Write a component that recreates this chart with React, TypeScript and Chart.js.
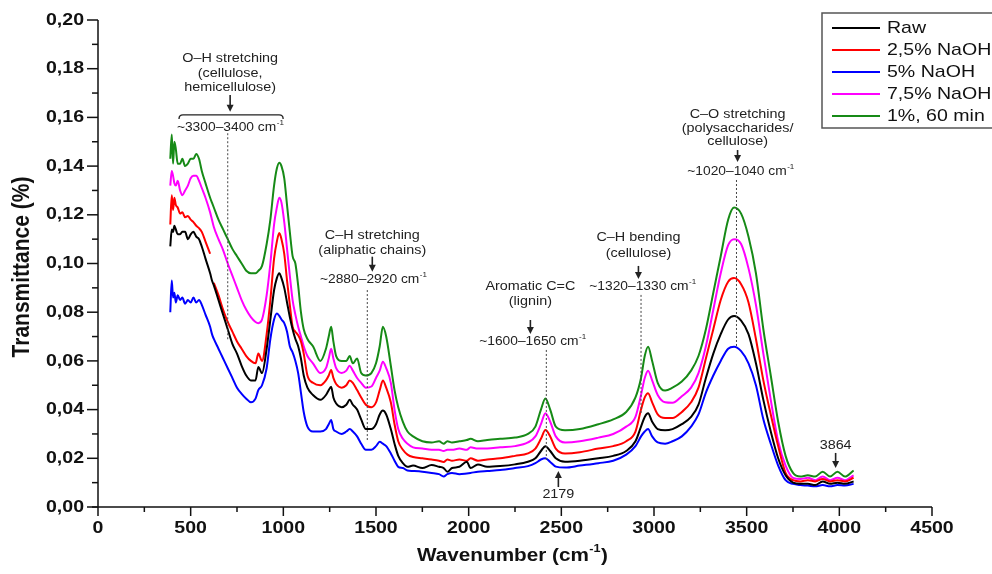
import React, { useEffect, useRef } from 'react';
import { Chart, registerables } from 'chart.js';

Chart.register(...registerables);

// ---------- DATA ----------
const wavenumbers = [
  390, 398, 405, 412, 420, 430, 443, 455, 470, 485,
  500, 515, 530, 545, 560, 580, 605, 615, 625, 650,
  675, 700, 725, 750, 775, 800, 825, 850, 865, 885,
  910, 930, 950, 965, 978, 990, 1005, 1020, 1035, 1050,
  1065, 1080, 1095, 1110, 1130, 1160, 1200, 1230, 1245, 1258,
  1270, 1285, 1315, 1340, 1358, 1375, 1398, 1420, 1445, 1475,
  1500, 1520, 1537, 1555, 1580, 1600, 1620, 1645, 1670, 1700,
  1750, 1800, 1840, 1865, 1885, 1910, 1950, 1990, 2010, 2050,
  2100, 2170, 2250, 2320, 2360, 2390, 2414, 2440, 2470, 2520,
  2600, 2700, 2780, 2850, 2900, 2930, 2950, 2968, 2990, 3020,
  3060, 3100, 3150, 3200, 3240, 3280, 3320, 3360, 3400, 3432,
  3470, 3510, 3550, 3590, 3630, 3670, 3710, 3750, 3790, 3830,
  3870, 3910, 3950, 3990, 4030, 4077,
];

const rawValues = [
  0.107, 0.114, 0.113, 0.1155, 0.114, 0.112, 0.112, 0.113, 0.113, 0.110,
  0.112, 0.113, 0.111, 0.110, 0.107, 0.102, 0.096, 0.093, 0.091, 0.085,
  0.079, 0.073, 0.067, 0.063, 0.058, 0.054, 0.052, 0.052, 0.0575, 0.055,
  0.065, 0.077, 0.089, 0.094, 0.096, 0.094, 0.090, 0.084, 0.078, 0.073,
  0.069, 0.066, 0.061, 0.054, 0.049, 0.046, 0.044, 0.046, 0.048, 0.0494,
  0.045, 0.0425, 0.041, 0.042, 0.044, 0.042, 0.040, 0.036, 0.032, 0.032,
  0.034, 0.038, 0.0396, 0.038, 0.032, 0.026, 0.021, 0.018, 0.0165, 0.017,
  0.016, 0.0172, 0.0165, 0.016, 0.0145, 0.016, 0.0165, 0.0186, 0.016, 0.0175,
  0.0165, 0.0168, 0.0175, 0.0186, 0.020, 0.023, 0.025, 0.023, 0.020, 0.0186,
  0.019, 0.020, 0.021, 0.023, 0.027, 0.033, 0.037, 0.0385, 0.035, 0.032,
  0.0315, 0.032, 0.034, 0.037, 0.042, 0.053, 0.063, 0.071, 0.077, 0.0784,
  0.0765, 0.071, 0.059, 0.044, 0.031, 0.020, 0.013, 0.010, 0.0095, 0.0095,
  0.009, 0.0105, 0.0095, 0.010, 0.0095, 0.0105,
];

const naoh25Values = [
  0.116, 0.128, 0.122, 0.127, 0.124, 0.123, 0.1205, 0.121, 0.119, 0.1195,
  0.118, 0.117, 0.1155, 0.1145, 0.113, 0.109, 0.104, null, 0.092, 0.087,
  0.081, 0.076, 0.072, 0.068, 0.065, 0.062, 0.060, 0.059, 0.063, 0.060,
  0.071, 0.085, 0.102, 0.109, 0.1125, 0.110, 0.104, 0.093, 0.083, 0.074,
  0.072, 0.0705, 0.068, 0.063, 0.054, 0.051, 0.050, 0.052, 0.054, 0.0563,
  0.053, 0.0505, 0.049, 0.050, 0.052, 0.051, 0.048, 0.045, 0.042, 0.041,
  0.043, 0.048, 0.0519, 0.049, 0.043, 0.034, 0.027, 0.0235, 0.0215, 0.0205,
  0.020, 0.0195, 0.019, 0.0185, 0.0195, 0.019, 0.0195, 0.019, 0.020, 0.019,
  0.0195, 0.020, 0.021, 0.022, 0.024, 0.028, 0.0316, 0.029, 0.024, 0.022,
  0.0225, 0.024, 0.025, 0.027, 0.031, 0.040, 0.045, 0.0467, 0.043, 0.038,
  0.0365, 0.0365, 0.039, 0.043, 0.049, 0.061, 0.073, 0.085, 0.0925, 0.094,
  0.0915, 0.084, 0.069, 0.052, 0.038, 0.025, 0.014, 0.011, 0.0105, 0.011,
  0.0105, 0.0115, 0.0105, 0.011, 0.0105, 0.012,
];

const naoh5Values = [
  0.080, 0.093, 0.086, 0.088, 0.084, 0.087, 0.085, 0.086, 0.0835, 0.085,
  0.084, 0.086, 0.084, 0.085, 0.083, 0.079, 0.074, 0.071, 0.069, 0.065,
  0.061, 0.057, 0.053, 0.049, 0.0465, 0.0445, 0.043, 0.0445, 0.048, 0.050,
  0.057, 0.069, 0.077, 0.0795, 0.0785, 0.077, 0.0755, 0.072, 0.066, 0.0635,
  0.060, 0.055, 0.047, 0.039, 0.033, 0.031, 0.031, 0.032, 0.034, 0.0357,
  0.032, 0.031, 0.030, 0.031, 0.032, 0.031, 0.029, 0.026, 0.0235, 0.0235,
  0.025, 0.0268, 0.026, 0.025, 0.022, 0.019, 0.0165, 0.016, 0.015, 0.0148,
  0.0145, 0.014, 0.0135, 0.0125, 0.0135, 0.014, 0.0135, 0.0138, 0.014, 0.0145,
  0.0148, 0.0152, 0.016, 0.0168, 0.018, 0.0195, 0.020, 0.0185, 0.0166, 0.0162,
  0.017, 0.018, 0.019, 0.0215, 0.025, 0.029, 0.031, 0.032, 0.029, 0.0265,
  0.026, 0.027, 0.029, 0.033, 0.038, 0.047, 0.054, 0.060, 0.065, 0.0658,
  0.064, 0.059, 0.050, 0.036, 0.026, 0.017, 0.011, 0.0095, 0.009, 0.0088,
  0.0085, 0.009, 0.0085, 0.009, 0.0088, 0.0095,
];

const naoh75Values = [
  0.132, 0.138, 0.136, 0.133, 0.132, 0.134, 0.130, 0.128, 0.130, 0.132,
  0.135, 0.136, 0.136, 0.134, 0.131, 0.127, 0.121, 0.118, 0.115, 0.110,
  0.1055, 0.100, 0.095, 0.090, 0.085, 0.081, 0.078, 0.076, 0.0755, 0.077,
  0.087, 0.100, 0.116, 0.123, 0.127, 0.125, 0.117, 0.106, 0.095, 0.085,
  0.079, 0.074, 0.070, 0.066, 0.062, 0.059, 0.055, 0.057, 0.061, 0.065,
  0.061, 0.057, 0.055, 0.056, 0.058, 0.056, 0.053, 0.051, 0.049, 0.0495,
  0.053, 0.056, 0.0597, 0.057, 0.051, 0.040, 0.032, 0.028, 0.026, 0.0245,
  0.024, 0.0235, 0.0235, 0.023, 0.0235, 0.0235, 0.024, 0.0235, 0.0245, 0.024,
  0.024, 0.0245, 0.025, 0.0265, 0.029, 0.034, 0.0385, 0.035, 0.029, 0.0265,
  0.027, 0.0285, 0.030, 0.033, 0.037, 0.046, 0.053, 0.056, 0.052, 0.046,
  0.043, 0.0428, 0.0455, 0.049, 0.055, 0.066, 0.081, 0.096, 0.1075, 0.110,
  0.108, 0.098, 0.083, 0.063, 0.044, 0.027, 0.017, 0.012, 0.0115, 0.012,
  0.011, 0.0125, 0.011, 0.012, 0.011, 0.013,
];

const naoh1h60Values = [
  0.143, 0.153, 0.141, 0.150, 0.147, 0.141, 0.141, 0.143, 0.140, 0.141,
  0.143, 0.143, 0.145, 0.143, 0.138, 0.133, 0.127, 0.125, 0.123, 0.118,
  0.114, 0.110, 0.106, 0.103, 0.100, 0.097, 0.096, 0.096, 0.097, 0.099,
  0.108, 0.118, 0.132, 0.139, 0.1414, 0.140, 0.135, 0.124, 0.113, 0.103,
  0.100, 0.091, 0.080, 0.073, 0.069, 0.066, 0.060, 0.065, 0.070, 0.074,
  0.068, 0.062, 0.060, 0.060, 0.062, 0.059, 0.061, 0.055, 0.054, 0.055,
  0.059, 0.066, 0.074, 0.070, 0.058, 0.048, 0.041, 0.035, 0.031, 0.029,
  0.027, 0.0265, 0.027, 0.026, 0.027, 0.0265, 0.027, 0.0275, 0.028, 0.027,
  0.0275, 0.028, 0.0285, 0.030, 0.033, 0.040, 0.0446, 0.040, 0.033, 0.0315,
  0.032, 0.034, 0.036, 0.039, 0.045, 0.053, 0.062, 0.0658, 0.060, 0.051,
  0.0478, 0.049, 0.0515, 0.056, 0.062, 0.073, 0.088, 0.103, 0.118, 0.123,
  0.1205, 0.111, 0.096, 0.073, 0.054, 0.035, 0.021, 0.014, 0.0125, 0.013,
  0.0125, 0.0145, 0.0125, 0.0145, 0.0125, 0.015,
];

const seriesLabels = ['Raw', '2,5% NaOH', '5% NaOH', '7,5% NaOH', '1%, 60 min'];
const seriesValues = [rawValues, naoh25Values, naoh5Values, naoh75Values, naoh1h60Values];
const seriesColors = ['#000000', '#ff0000', '#0000ff', '#ff00ff', '#168a16'];

const xTickValues = [0, 500, 1000, 1500, 2000, 2500, 3000, 3500, 4000, 4500];
const xTickLabels = ['0', '500', '1000', '1500', '2000', '2500', '3000', '3500', '4000', '4500'];
const yTickValues = [0, 0.02, 0.04, 0.06, 0.08, 0.1, 0.12, 0.14, 0.16, 0.18, 0.2];
const yTickLabels = ['0,00', '0,02', '0,04', '0,06', '0,08', '0,10', '0,12', '0,14', '0,16', '0,18', '0,20'];

const bandNotes = [
  { title: ['O–H stretching', '(cellulose,', 'hemicellulose)'], x: 713, titleY: [0.1843, 0.1781, 0.1722], arrow: [0.1692, 0.1623], range: '~3300–3400 cm', rangeX: 713, rangeY: 0.1559, dashX: 700, dash: [0.1535, 0.0686], bracket: [437, 999, 0.161] },
  { title: ['C–H stretching', '(aliphatic chains)'], x: 1480, titleY: [0.1113, 0.1055], arrow: [0.1028, 0.0966], range: '~2880–2920 cm', rangeX: 1485, rangeY: 0.0932, dashX: 1453, dash: [0.0891, 0.0275] },
  { title: ['Aromatic C=C', '(lignin)'], x: 2333, titleY: [0.0905, 0.0843], arrow: [0.0768, 0.071], range: '~1600–1650 cm', rangeX: 2344, rangeY: 0.0678, dashX: 2419, dash: [0.0645, 0.0193] },
  { title: ['C–H bending', '(cellulose)'], x: 2916, titleY: [0.1105, 0.1042], arrow: [0.099, 0.0936], range: '~1320–1330 cm', rangeX: 2938, rangeY: 0.0905, dashX: 2930, dash: [0.0871, 0.0386] },
  { title: ['C–O stretching', '(polysaccharides/', 'cellulose)'], x: 3451, titleY: [0.161, 0.1555, 0.15], arrow: [0.1466, 0.1417], range: '~1020–1040 cm', rangeX: 3467, rangeY: 0.1377, dashX: 3445, dash: [0.1343, 0.0661] },
];

const peakMarks = [
  { label: '3864', x: 3980, labelY: 0.0252, arrow: [0.0222, 0.016] },
  { label: '2179', x: 2484, labelY: 0.0053, arrow: [0.0082, 0.0148] },
];

// ---------- DRAW HELPERS ----------
const STRETCH = 1.15;
const FAMILY = "'Liberation Sans', Arial, sans-serif";

function drawText(ctx: CanvasRenderingContext2D, text: string, x: number, y: number, font: string, align: string = 'center', color: string = '#000') {
  ctx.save();
  ctx.font = font;
  ctx.fillStyle = color;
  ctx.textBaseline = 'middle';
  ctx.textAlign = 'left';
  const w = ctx.measureText(text).width * STRETCH;
  const x0 = align === 'center' ? x - w / 2 : align === 'right' ? x - w : x;
  ctx.translate(x0, y);
  ctx.scale(STRETCH, 1);
  ctx.fillText(text, 0, 0);
  ctx.restore();
  return w;
}

function drawSup(ctx: CanvasRenderingContext2D, main: string, sup: string, tail: string, x: number, y: number, size: number, weight: string, color: string) {
  ctx.save();
  const f1 = `${weight} ${size}px ${FAMILY}`;
  const f2 = `${weight} ${Math.round(size * 0.6)}px ${FAMILY}`;
  ctx.font = f1;
  const w1 = ctx.measureText(main).width * STRETCH;
  const w3 = tail ? ctx.measureText(tail).width * STRETCH : 0;
  ctx.font = f2;
  const w2 = ctx.measureText(sup).width * STRETCH;
  ctx.restore();
  const total = w1 + w2 + w3;
  const x0 = x - total / 2;
  drawText(ctx, main, x0, y, f1, 'left', color);
  drawText(ctx, sup, x0 + w1 + 0.5, y - size * 0.38, f2, 'left', color);
  if (tail) drawText(ctx, tail, x0 + w1 + w2 + 1, y, f1, 'left', color);
}

function drawArrow(ctx: CanvasRenderingContext2D, x: number, yFrom: number, yTo: number, color: string) {
  const dir = yTo > yFrom ? 1 : -1;
  ctx.save();
  ctx.strokeStyle = color;
  ctx.fillStyle = color;
  ctx.lineWidth = 1.6;
  ctx.beginPath();
  ctx.moveTo(x, yFrom);
  ctx.lineTo(x, yTo - dir * 5);
  ctx.stroke();
  ctx.beginPath();
  ctx.moveTo(x, yTo);
  ctx.lineTo(x - 3.5, yTo - dir * 7);
  ctx.lineTo(x + 3.5, yTo - dir * 7);
  ctx.closePath();
  ctx.fill();
  ctx.restore();
}

const decorPlugin = {
  id: 'decor',
  afterDraw(chart: any) {
    const ctx: CanvasRenderingContext2D = chart.ctx;
    const xs = chart.scales.x;
    const ys = chart.scales.y;
    const area = chart.chartArea;
    const X = (v: number) => xs.getPixelForValue(v);
    const Y = (v: number) => ys.getPixelForValue(v);

    // axes
    ctx.save();
    ctx.strokeStyle = '#111';
    ctx.lineWidth = 1.5;
    ctx.beginPath();
    ctx.moveTo(area.left, Y(0.2));
    ctx.lineTo(area.left, area.bottom);
    ctx.moveTo(area.left - 6, area.bottom);
    ctx.lineTo(X(4500), area.bottom);
    ctx.stroke();
    for (let i = 0; i <= 20; i++) {
      const py = Y(i * 0.01);
      const len = i % 2 === 0 ? 11 : 6;
      ctx.beginPath();
      ctx.moveTo(area.left - len, py);
      ctx.lineTo(area.left, py);
      ctx.stroke();
    }
    for (let i = 0; i <= 18; i++) {
      const px = X(i * 250);
      const len = i % 2 === 0 ? 9 : 5;
      ctx.beginPath();
      ctx.moveTo(px, area.bottom);
      ctx.lineTo(px, area.bottom + len);
      ctx.stroke();
    }
    ctx.restore();

    // tick labels
    yTickValues.forEach((v, i) => {
      drawText(ctx, yTickLabels[i], area.left - 14, Y(v), `bold 17px ${FAMILY}`, 'right', '#111');
    });
    xTickValues.forEach((v, i) => {
      drawText(ctx, xTickLabels[i], X(v), area.bottom + 21, `bold 17px ${FAMILY}`, 'center', '#111');
    });

    // axis titles
    ctx.save();
    ctx.translate(22, 267);
    ctx.rotate(-Math.PI / 2);
    ctx.scale(1, STRETCH);
    ctx.font = `bold 21px ${FAMILY}`;
    ctx.fillStyle = '#111';
    ctx.textAlign = 'center';
    ctx.textBaseline = 'middle';
    ctx.fillText('Transmittance (%)', 0, 0);
    ctx.restore();
    drawSup(ctx, 'Wavenumber (cm', '-1', ')', 512, 556, 18, 'bold', '#111');

    // band annotations
    const noteFont = `12.5px ${FAMILY}`;
    const ink = '#222';
    bandNotes.forEach((n) => {
      n.title.forEach((t, i) => drawText(ctx, t, X(n.x), Y(n.titleY[i]), noteFont, 'center', ink));
      drawArrow(ctx, X(n.x), Y(n.arrow[0]), Y(n.arrow[1]), ink);
      drawSup(ctx, n.range, '-1', '', X(n.rangeX), Y(n.rangeY), 12, 'normal', ink);
      ctx.save();
      ctx.strokeStyle = '#444';
      ctx.lineWidth = 1;
      ctx.setLineDash([2, 2]);
      ctx.beginPath();
      ctx.moveTo(X(n.dashX), Y(n.dash[0]));
      ctx.lineTo(X(n.dashX), Y(n.dash[1]));
      ctx.stroke();
      ctx.restore();
      if (n.bracket) {
        const bx1 = X(n.bracket[0]);
        const bx2 = X(n.bracket[1]);
        const by = Y(n.bracket[2]);
        ctx.save();
        ctx.strokeStyle = ink;
        ctx.lineWidth = 1.3;
        ctx.beginPath();
        ctx.moveTo(bx1, by + 4);
        ctx.quadraticCurveTo(bx1, by, bx1 + 4, by);
        ctx.lineTo(bx2 - 4, by);
        ctx.quadraticCurveTo(bx2, by, bx2, by + 4);
        ctx.stroke();
        ctx.restore();
      }
    });
    peakMarks.forEach((p) => {
      drawText(ctx, p.label, X(p.x), Y(p.labelY), `12.5px ${FAMILY}`, 'center', ink);
      drawArrow(ctx, X(p.x), Y(p.arrow[0]), Y(p.arrow[1]), ink);
    });

    // legend
    const lx = 822;
    const ly = 13;
    const rowH = 22;
    ctx.save();
    ctx.strokeStyle = '#555';
    ctx.lineWidth = 1.5;
    ctx.strokeRect(lx, ly, 200, 115);
    ctx.restore();
    chart.data.datasets.forEach((ds: any, i: number) => {
      const ry = ly + 15 + i * rowH;
      ctx.save();
      ctx.strokeStyle = ds.borderColor;
      ctx.lineWidth = 2;
      ctx.beginPath();
      ctx.moveTo(lx + 10, ry);
      ctx.lineTo(lx + 58, ry);
      ctx.stroke();
      ctx.restore();
      drawText(ctx, ds.label, lx + 65, ry, `17px ${FAMILY}`, 'left', '#111');
    });
  },
};

export default function App() {
  const canvasRef = useRef<HTMLCanvasElement | null>(null);

  useEffect(() => {
    if (!canvasRef.current) return;
    const datasets = seriesLabels.map((label, s) => ({
      label,
      data: wavenumbers.map((w, i) => ({ x: w, y: seriesValues[s][i] })),
      borderColor: seriesColors[s],
      backgroundColor: seriesColors[s],
      borderWidth: 2,
      pointRadius: 0,
      spanGaps: false,
      tension: 0.3,
      cubicInterpolationMode: 'monotone' as const,
    }));
    const chart = new Chart(canvasRef.current, {
      type: 'line',
      data: { datasets },
      options: {
        animation: false,
        responsive: false,
        maintainAspectRatio: false,
        layout: { padding: { left: 0, top: 20, right: 60, bottom: 0 } },
        plugins: { legend: { display: false }, tooltip: { enabled: false }, title: { display: false } },
        scales: {
          x: {
            type: 'linear',
            min: 0,
            max: 4500,
            grid: { display: false },
            border: { display: false },
            ticks: { display: false, stepSize: 500 },
            afterFit: (scale: any) => { scale.height = 67; },
          },
          y: {
            type: 'linear',
            min: 0,
            max: 0.2,
            grid: { display: false },
            border: { display: false },
            ticks: { display: false, stepSize: 0.02 },
            afterFit: (scale: any) => { scale.width = 98; },
          },
        },
      },
      plugins: [decorPlugin],
    });
    return () => chart.destroy();
  }, []);

  return (
    <div style={{ position: 'fixed', left: 0, top: 0, width: 992, height: 574, background: '#fff' }}>
      <canvas ref={canvasRef} width={992} height={574} style={{ display: 'block' }} />
    </div>
  );
}
